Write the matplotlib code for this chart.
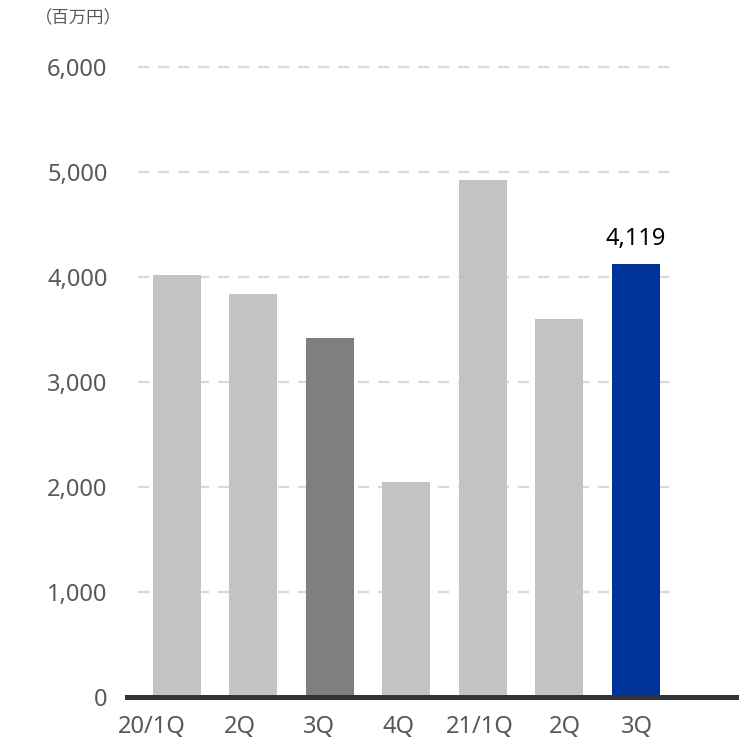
import numpy as np
import matplotlib as mpl
mpl.use('Agg')
import matplotlib.pyplot as plt
from matplotlib.ticker import FuncFormatter

plt.rcParams['font.family'] = ['Noto Sans', 'Noto Sans CJK JP', 'DejaVu Sans']

quarters = ['20/1Q', '2Q', '3Q', '4Q', '21/1Q', '2Q', '3Q']
values = [4019, 3838, 3419, 2045, 4924, 3597, 4119]
bar_colors = ['#c3c3c3', '#c3c3c3', '#7f7f7f', '#c3c3c3', '#c3c3c3', '#c3c3c3', '#00339a']
y_ticks = [0, 1000, 2000, 3000, 4000, 5000, 6000]

# category labels sit slightly left of their bars
label_shift = np.array([-0.33, -0.18, -0.14, -0.10, -0.04, 0.07, 0.01])

fig = plt.figure(figsize=(7.43, 7.44), dpi=100)
ax = fig.add_axes([127 / 743, 47 / 744, (736 - 127) / 743, (697 - 35) / 744])

x = np.arange(len(quarters))
ax.bar(x, values, 0.63, color=bar_colors, zorder=3)

# dashed guide lines only across the bar area
ax.hlines(y_ticks[1:], -0.5, 6.5, colors='#d9d9d9', linestyles=(0, (5, 4)),
          linewidth=1.6, zorder=1)

# value label on the latest quarter
ax.text(x[-1], values[-1] + 130, f'{values[-1]:,}', ha='center', va='bottom',
        fontsize=17, color='black')

ax.set_xlim(-0.65, 7.31)
ax.set_ylim(0, 6300)
ax.set_yticks(y_ticks)
ax.yaxis.set_major_formatter(FuncFormatter(lambda v, p: f'{int(v):,}'))
ax.set_xticks(x + label_shift)
ax.set_xticklabels(quarters)

for s in ['top', 'right', 'left']:
    ax.spines[s].set_visible(False)
ax.spines['bottom'].set_linewidth(3.6)
ax.spines['bottom'].set_color('#333333')
ax.spines['bottom'].set_zorder(4)

ax.tick_params(axis='both', length=0, labelsize=17, labelcolor='#595959')
ax.tick_params(axis='y', pad=14)
ax.tick_params(axis='x', pad=13)

fig.text(35 / 743, 1 - 18 / 744, '（百万円）', ha='left', va='center',
         fontsize=12.5, color='#595959', family=['Noto Sans CJK JP', 'DejaVu Sans'])

plt.savefig('out.png', dpi=100)
